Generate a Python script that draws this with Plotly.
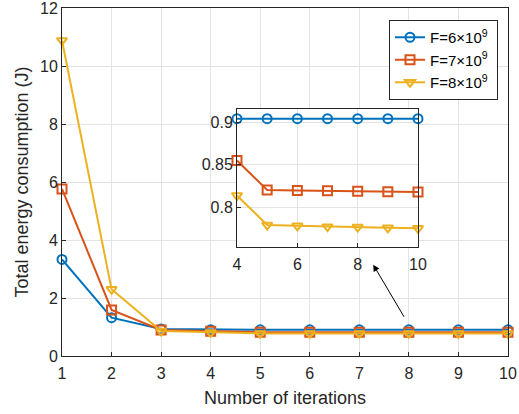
import plotly.graph_objects as go

iterations = [1, 2, 3, 4, 5, 6, 7, 8, 9, 10]
energy_f6 = [3.33, 1.32, 0.93, 0.904, 0.904, 0.904, 0.904, 0.904, 0.904, 0.904]
energy_f7 = [5.76, 1.59, 0.90, 0.855, 0.8205, 0.820, 0.8195, 0.819, 0.8185, 0.818]
energy_f8 = [10.88, 2.30, 0.86, 0.814, 0.7794, 0.7785, 0.7775, 0.777, 0.7762, 0.7755]
series_names = ["F=6×10<sup>9</sup>\u00a0", "F=7×10<sup>9</sup>\u00a0", "F=8×10<sup>9</sup>\u00a0"]
inset_start = 3  # index of iteration 4

colors = ["#0072BD", "#D95319", "#EDB120"]
symbols = ["circle-open", "square-open", "triangle-down-open"]
series = [energy_f6, energy_f7, energy_f8]

fig = go.Figure()
for name, ys, c, s in zip(series_names, series, colors, symbols):
    fig.add_trace(go.Scatter(x=iterations, y=ys, name=name, mode="lines+markers",
                             line=dict(color=c, width=2),
                             marker=dict(symbol=s, size=9, color=c, line=dict(width=2, color=c)),
                             cliponaxis=False, xaxis="x", yaxis="y"))
for name, ys, c, s in zip(series_names, series, colors, symbols):
    fig.add_trace(go.Scatter(x=iterations[inset_start:], y=ys[inset_start:], name=name,
                             mode="lines+markers", showlegend=False,
                             line=dict(color=c, width=2),
                             marker=dict(symbol=s, size=9, color=c, line=dict(width=2, color=c)),
                             cliponaxis=False, xaxis="x2", yaxis="y2"))

axis_common = dict(showline=True, linecolor="#262626", linewidth=1, mirror=True,
                   ticks="inside", ticklen=4, tickcolor="#262626", automargin=False,
                   ticklabeloverflow="allow",
                   showgrid=True, gridcolor="#e3e3e3", gridwidth=1, zeroline=False,
                   tickfont=dict(family="Liberation Sans, Arial", size=16, color="#262626"))

fig.update_layout(
    width=519, height=414,
    margin=dict(l=62, r=11, t=8, b=58, autoexpand=False),
    paper_bgcolor="white", plot_bgcolor="white",
    font=dict(family="Liberation Sans, Arial", size=16, color="#262626"),
    xaxis=dict(range=[1, 10], tickvals=iterations, domain=[0, 1], ticklabelstandoff=3,
               title=dict(text="Number of iterations", font=dict(size=18), standoff=10), **axis_common),
    yaxis=dict(range=[0, 12], tickvals=[0, 2, 4, 6, 8, 10, 12], domain=[0, 1],
               title=dict(text="Total energy consumption (J)", font=dict(size=18), standoff=6), **axis_common),
    xaxis2=dict(range=[4, 10], tickvals=[4, 6, 8, 10], domain=[0.3924, 0.7982], anchor="y2",
                ticklabelstandoff=3, **axis_common),
    yaxis2=dict(range=[0.754, 0.915], tickvals=[0.8, 0.85, 0.9], ticktext=["0.8", "0.85", "0.9"],
                domain=[0.314, 0.709], anchor="x2", **axis_common),
    legend=dict(x=0.9776, y=0.9655, xanchor="right", yanchor="top",
                bgcolor="white", bordercolor="#262626", borderwidth=1,
                font=dict(size=15, color="black"), tracegroupgap=2),
    showlegend=True,
)

fig.add_shape(type="rect", xref="x2 domain", yref="y2 domain", x0=0, x1=1, y0=0, y1=1,
              fillcolor="white", line=dict(width=0), layer="below")

fig.add_annotation(x=7.28, y=3.15, ax=7.92, ay=1.3, xref="x", yref="y", axref="x", ayref="y",
                   showarrow=True, arrowhead=2, arrowsize=1.3, arrowwidth=1, arrowcolor="black", text="")

fig.write_html("out.html", config={"displayModeBar": False},
               post_script="document.body.style.margin='0';document.body.style.padding='0';")
